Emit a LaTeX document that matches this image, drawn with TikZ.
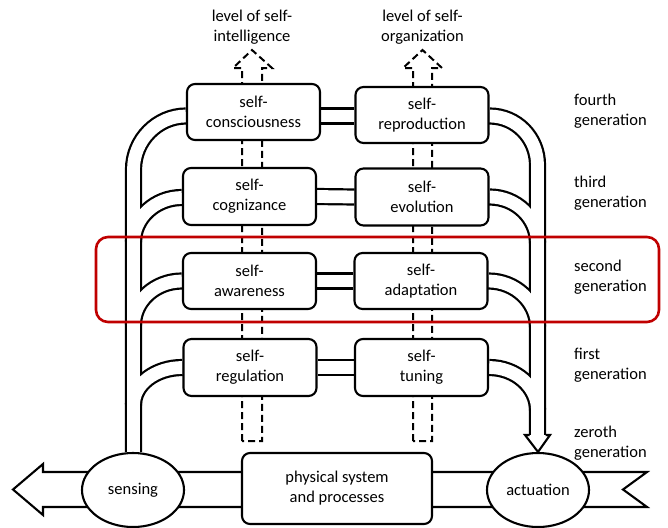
\documentclass[tikz,border=0pt]{standalone}
\usepackage{fontspec}
\setmainfont{Carlito}
\usetikzlibrary{shapes.geometric,backgrounds}
\definecolor{frame}{RGB}{192,0,0}
\begin{document}
\begin{tikzpicture}[x=1pt,y=-1pt,
  txt/.style={font=\fontsize{16.5}{20}\selectfont},
  box/.style={txt, draw, line width=2.1pt, rounded corners=8pt, fill=white, minimum width=133pt, minimum height=56pt, align=center, inner sep=0pt},
  oval/.style={txt, ellipse, draw, line width=2.1pt, fill=white, minimum width=102pt, minimum height=74pt, inner sep=0pt},
  lbl/.style={txt, align=left, anchor=west, inner sep=0pt},
  toplbl/.style={txt, align=center, inner sep=0pt},
  dsh/.style={dash pattern=on 7pt off 4pt, line width=2pt, line join=miter},
  pipeout/.style={line width=17.2pt, black},
  pipein/.style={line width=12.8pt, white},
  solid line/.style={line width=2.1pt, line join=miter}
]
\useasboundingbox (0,0) rectangle (668,527);

% boxes
\node[box] (cons) at (253.5,112) {self-\\consciousness};
\node[box] (repr) at (422,115) {self-\\reproduction};
\node[box, minimum height=57pt] (cogn) at (249.5,196.5) {self-\\cognizance};
\node[box, minimum height=57pt] (evol) at (422,197) {self-\\evolution};
\node[box] (awar) at (249.5,281) {self-\\awareness};
\node[box] (adap) at (421,281) {self-\\adaptation};
\node[box, minimum height=57pt] (regu) at (250,367.5) {self-\\regulation};
\node[box, minimum height=57pt] (tune) at (421.5,367.5) {self-\\tuning};
\node[oval] (sens) at (133,490) {sensing};
\node[oval] (actu) at (538,490) {actuation};
\node[box, minimum width=190pt, minimum height=71pt] (phys) at (337,488.5) {physical system\\and processes};

% labels
\node[toplbl] (lint) at (252,27) {level of self-\\intelligence};
\node[toplbl] (lorg) at (422.5,27) {level of self-\\organization};
\node[lbl] (g4) at (574,111) {fourth\\generation};
\node[lbl] (g3) at (574,193) {third\\generation};
\node[lbl] (g2) at (574,277) {second\\generation};
\node[lbl] (g1) at (574,365) {first\\generation};
\node[lbl] (g0) at (574,443) {zeroth\\generation};

% red frame
\draw[frame, line width=2.6pt, rounded corners=12pt] (96,237) rectangle (659,322);

\begin{pgfonlayer}{background}
  % bottom band with arrow and swallowtail
  \draw[solid line, fill=white] (647,472) -- (43,472) -- (43,464) -- (13,489.5) -- (43,515) -- (43,507) -- (647,507) -- (623,489.5) -- cycle;
  % dashed hollow arrows
  \draw[dsh] (242,441) -- (242,68) -- (233,68) -- (252,50) -- (272,68) -- (262,68) -- (262,441) -- cycle;
  \draw[dsh] (413,441) -- (413,68) -- (403,68) -- (422.5,50) -- (442,68) -- (432,68) -- (432,441) -- cycle;
  % hollow pipes
  \foreach \st in {pipeout,pipein}{
    \draw[\st] (sens.north) ++(0.5,0) -- (133.5,169.5)
      .. controls (133.5,140) and (157.5,116) .. ([yshift=-4pt]cons.west);
    \draw[\st] ([yshift=-1pt]cogn.west) .. controls +(-27,0) and +(0,-24) .. (133.5,242);
    \draw[\st] (awar.west) .. controls +(-27,0) and +(0,-24) .. (133.5,325);
    \draw[\st] (regu.west) .. controls +(-27,0) and +(0,-21) .. (133.5,405);
    \draw[\st] ([yshift=-1pt]repr.east) .. controls +(27,0) and +(0,-27) .. (537.5,165) -- (537.5,435);
    \draw[\st] (evol.east) .. controls +(27,0) and +(0,-25) .. (537.5,243);
    \draw[\st] (adap.east) .. controls +(27,0) and +(0,-25) .. (537.5,327);
    \draw[\st] (tune.east) .. controls +(27,0) and +(0,-23) .. (537.5,410);
    \draw[\st] ([yshift=-4pt]cons.east) -- ([yshift=-1pt]repr.west);
    \draw[\st] (cogn.east) -- (evol.west);
    \draw[\st] (awar.east) -- (adap.west);
    \draw[\st] (regu.east) -- (tune.west);
  }
  % arrowhead into actuation
  \fill[white] (525,435) -- (actu.north) -- (550,435) -- cycle;
  \draw[solid line] (529.5,435) -- (525,435) -- (actu.north) -- (550,435) -- (545.5,435);
\end{pgfonlayer}
\end{tikzpicture}
\end{document}
